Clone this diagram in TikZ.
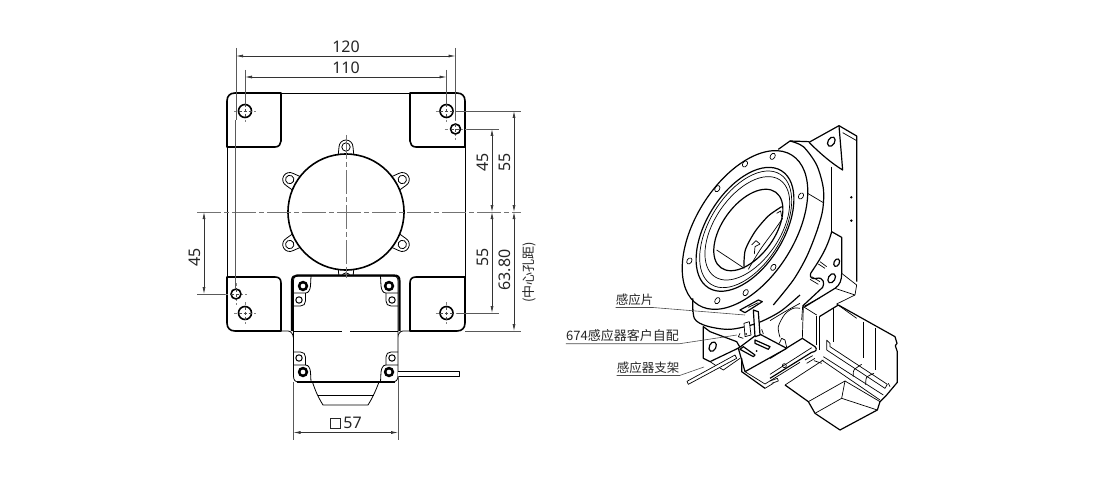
\documentclass[tikz,border=0pt]{standalone}
\usepackage{fontspec}
\setmainfont{Noto Sans}
\newfontfamily\cjk{Noto Sans CJK SC}
\usepackage{tikz}
\usetikzlibrary{positioning,shapes,arrows.meta}

\tikzset{
  dimline/.style={draw=black!80,line width=.7pt,{Latex[length=7pt,width=3pt]}-{Latex[length=7pt,width=3pt]}},
  extline/.style={draw=black!65,line width=.6pt},
  centline/.style={draw=black!55,line width=.7pt,dash pattern=on 24pt off 3pt on 5pt off 3pt},
  crossline/.style={draw=black!50,line width=.4pt,dash pattern=on 3pt off 2pt},
  thickline/.style={line width=1.6pt,line join=round},
  thinline/.style={line width=.8pt,line join=round},
  isoline/.style={line width=.7pt,line join=round},
  isobold/.style={line width=1.2pt,line join=round},
  cropunit/.style={shift={#1},x=.3333pt,y=-.3333pt},
  dimtxt/.style={font=\fontsize{16}{18}\selectfont,inner sep=0pt,text=black!85},
  lbltxt/.style={font=\cjk\fontsize{12.5}{14}\selectfont,inner sep=0pt,text=black!85},
  leader/.style={draw=black!70,line width=.6pt}
}

\begin{document}
\begin{tikzpicture}[x=1pt,y=-1pt]
\useasboundingbox (0,0) rectangle (1100,500);

% base plate
\draw[thinline] (281,93) -- (410,93);
\draw[thinline] (227,147) -- (227,277);
\draw[thinline] (465,147) -- (465,277);
\draw[thickline] (281,93) -- (235,93) .. controls (230,93) and (227,96) .. (227,101) -- (227,147) -- (275,147) .. controls (279,147) and (281,144) .. (281,141) -- cycle;
\draw[thickline] (410,93) -- (457,93) .. controls (462,93) and (465,96) .. (465,101) -- (465,147) -- (416,147) .. controls (412,147) and (410,144) .. (410,141) -- cycle;
\draw[thickline] (227,277) -- (275,277) .. controls (279,277) and (281,279) .. (281,283) -- (281,331) -- (235,331) .. controls (230,331) and (227,328) .. (227,323) -- cycle;
\draw[thickline] (465,277) -- (416,277) .. controls (412,277) and (410,279) .. (410,283) -- (410,331) -- (457,331) .. controls (462,331) and (465,328) .. (465,323) -- cycle;
\draw[thinline] (281,331) -- (288,331) .. controls (291,331) and (293,334) .. (293.5,338);
\draw[thinline] (410,331) -- (403,331) .. controls (400,331) and (398,334) .. (397.5,338);

% round housing with its lugs
\foreach \lugang in {0,60,120,180,240,300}{
  \begin{scope}[shift={(346,212)},rotate=\lugang]
    \draw[thinline,fill=white] (-8,-55) -- (-7,-65) arc[start angle=180,end angle=360,radius=7] -- (8,-55);
    \draw[thinline] (0,-65) circle[radius=4.2];
  \end{scope}
}
\draw[thickline,fill=white] (346,212) circle[radius=58];

% holes in the plate
\foreach \hx/\hy/\hr in {245/111/6.5,446.5/111/6.5,455.5/129/5,236/294/5,245/313/6.5,446.5/313/6.5}{
  \draw[crossline] (\hx-11,\hy) -- (\hx+11,\hy);
  \draw[crossline] (\hx,\hy-11) -- (\hx,\hy+11);
  \draw[thickline,fill=white] (\hx,\hy) circle[radius=\hr];
  \draw[crossline,draw=black!70] (\hx-\hr,\hy) -- (\hx+\hr,\hy);
  \draw[crossline,draw=black!70] (\hx,\hy-\hr) -- (\hx,\hy+\hr);
}

% motor, seen from the end
\draw[thinline,fill=white] (293.5,281) -- (293.5,376) .. controls (293.5,380) and (295,382) .. (299,382) -- (392,382) .. controls (396,382) and (398,380) .. (398,376) -- (398,281) .. controls (398,277) and (396,276) .. (392,276) -- (299,276) .. controls (295,276) and (293.5,277) .. (293.5,281) -- cycle;
\draw[line width=2.1pt,line join=round] (292,331) -- (292,281) .. controls (292,277) and (294,275.5) .. (297,275.5) -- (394.5,275.5) .. controls (398,275.5) and (399.5,277) .. (399.5,281) -- (399.5,331);
\draw[thinline] (293.5,331) -- (342,331) (350,331) -- (398,331);
\foreach \cx/\cy/\sx/\sy in {293.5/276/1/1,398/276/-1/1,293.5/382/1/-1,398/382/-1/-1}{
  \begin{scope}[shift={(\cx,\cy)},xscale=\sx,yscale=\sy]
    \draw[thinline] (17.5,0) -- (17,10) .. controls (16.5,14) and (15,17) .. (12,17) -- (0,17);
    \draw[thinline] (12,17) -- (12,25) .. controls (12,28) and (10,30) .. (7,30) -- (0,30);
  \end{scope}
}
\foreach \sx/\sy in {303/286,389/286,303/372,389/372}{
  \draw[line width=2.5pt] (\sx,\sy) circle[radius=3.9];
}
\foreach \sx/\sy in {299/300,392/300,299/358,392/358}{
  \draw[line width=1pt] (\sx,\sy) circle[radius=3.2];
}
% connector and cable
\draw[thinline] (312.5,382) .. controls (315,390) and (318,397) .. (323,405) -- (368,405) .. controls (373,397) and (376,390) .. (379,382);
\draw[line width=1.1pt] (297,382) -- (395,382);
\draw[thinline] (318,395.5) -- (374,395.5);
\draw[thinline,fill=white] (398,371.5) -- (459.5,371.5) -- (459.5,376) -- (398,376);

% centre lines
\draw[centline] (197,212) -- (521,212);
\draw[centline] (346,135) -- (346,278);

% extension lines
\foreach \from/\to in {236/48,455.5/48}
  \draw[extline] (\from,\to) -- (\from,120);
\draw[extline] (235.5,120) -- (235.5,289);
\draw[extline] (245,70) -- (245,104);
\draw[extline] (446.5,70) -- (446.5,104);
\draw[extline] (455,111) -- (521,111);
\draw[extline] (467,129) -- (499,129);
\draw[extline] (457,313) -- (499,313);
\draw[extline] (465,331) -- (521,331);
\draw[extline] (197,294) -- (225,294);
\draw[extline] (293.5,382) -- (293.5,440);
\draw[extline] (398,376) -- (398,440);

% dimensions
\coordinate (w120a) at (236,56);
\coordinate (w120b) at (455.5,56);
\coordinate (w110a) at (245,77);
\coordinate (w110b) at (446.5,77);
\coordinate (h45a) at (492,129);
\coordinate (h45b) at (492,212);
\coordinate (h55a) at (514,111);
\coordinate (h55b) at (514,212);
\coordinate (l55b) at (492,313);
\coordinate (l63b) at (514,331);
\coordinate (s45a) at (204,212);
\coordinate (s45b) at (204,294);
\coordinate (w57a) at (293.5,432.5);
\coordinate (w57b) at (398,432.5);
\foreach \from/\to in {w120a/w120b,w110a/w110b,h45a/h45b,h55a/h55b,h45b/l55b,h55b/l63b,s45a/s45b,w57a/w57b}
  \draw[dimline] (\from) -- (\to);

\node[dimtxt] (t120) at (346,46.5) {120};
\node[dimtxt] (t110) at (346,67.5) {110};
\node[dimtxt,rotate=90] (t45) at (482.5,162) {45};
\node[dimtxt,rotate=90] (t55) at (504.5,162) {55};
\node[dimtxt,rotate=90] (t55l) at (482.5,257) {55};
\node[dimtxt,rotate=90] (t63) at (504.5,270) {63.80};
\node[dimtxt,rotate=90] (t45l) at (195,257) {45};
\node[lbltxt,rotate=90,font=\cjk\fontsize{13}{15}\selectfont] (tcen) at (529,272) {(中心孔距)};
\node[dimtxt] (t57) at (346,423) {\tikz[baseline=0pt]\draw[line width=.6pt] (0,0) rectangle (10pt,10pt);\,57};

% isometric view, flange
\begin{scope}[cropunit={(660,110)}]
  % bracket
  \draw[isobold] (447,97) -- (537,47) -- (590,78) -- (590,515);
  \draw[isobold] (537,47) -- (548,180) .. controls (515,160) and (480,130) .. (447,97);
  \draw[isoline] (548,68) -- (590,92);
  \draw[isobold,rotate around={60:(514,95)}] (514,95) ellipse[x radius=15,y radius=10];
  \draw[isoline] (515,170) -- (515,372);
  \fill (574,262) circle[radius=4];
  \fill (574,332) circle[radius=4];
  % body
  \draw[isobold] (355,118) -- (390,93) -- (447,95);
  \draw[isobold] plot[smooth] coordinates {(390,93) (430,110) (470,165) (490,235) (488,300) (470,365) (440,440) (400,510) (340,585)};
  \draw[isoline] (443,250) -- (490,278);
  \draw[isoline] (97,560) -- (97,605);
  % flange
  \draw[isobold,fill=white,rotate around={58:(255,360)}] (255,360) ellipse[x radius=265,y radius=148];
  \draw[isobold,rotate around={58:(255,358)}] (255,358) ellipse[x radius=207,y radius=115];
  \draw[isoline,rotate around={58:(257,358)}] (257,358) ellipse[x radius=195,y radius=108];
  \draw[isoline,rotate around={56:(262,355)}] (262,355) ellipse[x radius=175,y radius=98];
  \draw[isobold,rotate around={54:(265,360)}] (265,360) ellipse[x radius=140,y radius=78];
  \foreach \hx/\hy in {338/139,255/162,172/236,88/453,172/572,257/548,340/472,423/258}
    \draw[isoline,rotate around={58:(\hx,\hy)}] (\hx,\hy) ellipse[x radius=10,y radius=7];
  % inside of the bore
  \draw[isoline] (170,420) -- (253,475);
  \draw[isobold] plot[smooth] coordinates {(252,470) (256,420) (285,365) (325,318) (365,290)};
  \draw[isoline] plot[smooth] coordinates {(265,478) (300,420) (340,365) (368,325)};
  \draw[isoline] (275,405) -- (288,392) -- (300,402) -- (285,410) -- (283,432);
  \draw[isoline] (350,310) -- (362,303) -- (365,320);
\end{scope}

% isometric view, lower mounting lug
\begin{scope}[cropunit={(790,230)}]
  \draw[isobold] (125,5) -- (155,22) -- (155,130) .. controls (155,150) and (150,165) .. (135,175) -- (45,230);
  \draw[isobold] (125,5) .. controls (110,60) and (85,95) .. (62,130) .. controls (58,142) and (65,148) .. (80,145) .. controls (100,140) and (105,160) .. (98,172) -- (38,228);
  \draw[isoline] (155,130) -- (200,165) -- (195,195) -- (140,222) (135,175) -- (195,195);
  \draw[isobold,rotate around={65:(140,98)}] (140,98) ellipse[x radius=12,y radius=8];
  \draw[isobold,rotate around={60:(125,145)}] (125,145) ellipse[x radius=15,y radius=10];
  \draw[isoline] (90,95) -- (110,110) (85,102) -- (105,115) (65,140) -- (90,155) (60,148) -- (85,163);
  \draw[isoline] (140,222) -- (200,265);
  \draw[isoline] (38,228) -- (35,270);
\end{scope}

% isometric view, motor
\begin{scope}[cropunit={(770,295)}]
  \draw[isoline] (100,35) -- (97,130) (100,35) -- (140,60) (100,35) -- (150,8);
  \draw[isoline] (140,62) -- (140,150);
  \draw[isoline] (148,65) -- (148,165);
  \draw[isobold] (148,65) -- (205,30);
  \draw[isoline] (190,40) -- (190,140);
  \draw[isobold] (205,30) -- (375,125) -- (381,145) -- (376,152) -- (382,170) -- (382,262) -- (350,300) -- (330,320) -- (322,345) -- (210,405) -- (135,355) -- (115,320) -- (45,270);
  \draw[isoline] (280,80) -- (280,190);
  \draw[isoline] (315,100) -- (315,225);
  \draw[isoline] (170,135) -- (170,165) (170,135) -- (180,145) -- (180,155) -- (352,268) -- (345,280);
  \draw[isoline] (170,165) -- (345,280);
  \draw[isoline] (160,185) -- (340,300);
  \draw[isoline] (155,195) -- (330,315);
  \draw[isoline] plot[smooth] coordinates {(250,245) (252,225) (275,208)};
  \draw[isoline] plot[smooth] coordinates {(287,270) (290,247) (312,235)};
  \draw[isoline] (355,265) -- (360,275);
  \draw[isoline] (45,270) -- (160,195);
  \draw[isoline] (115,320) -- (225,258) -- (215,310) -- (135,355);
  \draw[isoline] (225,258) -- (330,320);
  \draw[isoline] (215,310) -- (322,345);
  \draw[isobold] (0,190) -- (97,130) -- (135,155) .. controls (142,162) and (140,170) .. (125,172) -- (0,250);
  \draw[isoline] (0,238) -- (125,158);
  \draw[isoline] (105,195) -- (128,182) (110,205) -- (135,190) (132,197) -- (155,205);
  \draw[isoline] (0,258) -- (22,250) -- (25,258) -- (5,265);
  \draw[isoline] (43,212) circle[radius=6];
\end{scope}

% isometric view, sensor and its bracket
\begin{scope}[cropunit={(690,290)}]
  % flange rim, underside
  \draw[isobold] plot[smooth] coordinates {(8,25) (13,85) (50,108) (120,118) (200,100) (270,65) (330,15)};
  \draw[isoline] plot[smooth] coordinates {(270,142) (265,110) (285,72) (310,55) (330,55)};
  \draw[isoline] plot[smooth] coordinates {(240,92) (290,62) (330,40)};
  % base flange
  \draw[isobold,fill=white] (40,110) -- (60,125) -- (140,155) -- (150,172) -- (60,215) -- (40,205) -- cycle;
  \draw[isobold,rotate around={65:(68,170)}] (68,170) ellipse[x radius=15,y radius=10];
  \draw[isoline] (60,215) -- (75,225) -- (100,240) -- (150,205);
  % cable
  \draw[isoline,fill=white] (-9,274) -- (135,195) -- (140,205) -- (-5,283) -- cycle;
  % sensor box
  \draw[isobold,fill=white] (145,175) -- (205,130) -- (290,175) -- (165,245) -- cycle;
  \draw[isobold] (155,205) -- (155,245) -- (225,295);
  \draw[isoline] (225,295) -- (250,280);
  \draw[isoline] (165,245) -- (225,282) -- (330,217);
  \draw[isobold] (195,150) -- (240,170) -- (235,178) -- (195,160) -- cycle;
  \draw[isobold] (160,170) -- (195,195) -- (190,200) -- (150,178) -- cycle;
  \fill (200,183) circle[radius=3];
  \draw[isoline] (268,160) -- (275,145) -- (285,150) -- (290,172);
  % sensor post and flag
  \draw[isoline,fill=white] (162,100) -- (178,95) -- (183,135) -- (165,140) -- cycle;
  \fill (168,132) circle[radius=3];
  \draw[isoline] (150,130) -- (145,140) -- (160,145);
  \draw[isobold,fill=white] (190,60) -- (205,65) -- (210,135) -- (195,140) -- cycle;
  \draw[isoline] (215,118) -- (220,132);
  \draw[isobold,fill=white] (150,60) -- (205,30) -- (217,35) -- (165,68) -- cycle;
  \draw[isoline] (175,52) -- (205,38);
\end{scope}

% callouts
\node[lbltxt] (sflag) at (634.5,300) {感应片};
\node[lbltxt,font=\cjk\fontsize{13}{15}\selectfont] (ssensor) at (622.5,336) {674感应器客户自配};
\node[lbltxt] (sbrack) at (648,368) {感应器支架};
\coordinate (pflag) at (745,315);
\coordinate (psensor) at (737,335);
\coordinate (pbrack) at (704,367);
\foreach \from/\to in {sflag/pflag,ssensor/psensor,sbrack/pbrack}
  \draw[leader] ([yshift=-1.5pt]\from.south west) -- ([yshift=-1.5pt]\from.south east) -- (\to);
\end{tikzpicture}
\end{document}
